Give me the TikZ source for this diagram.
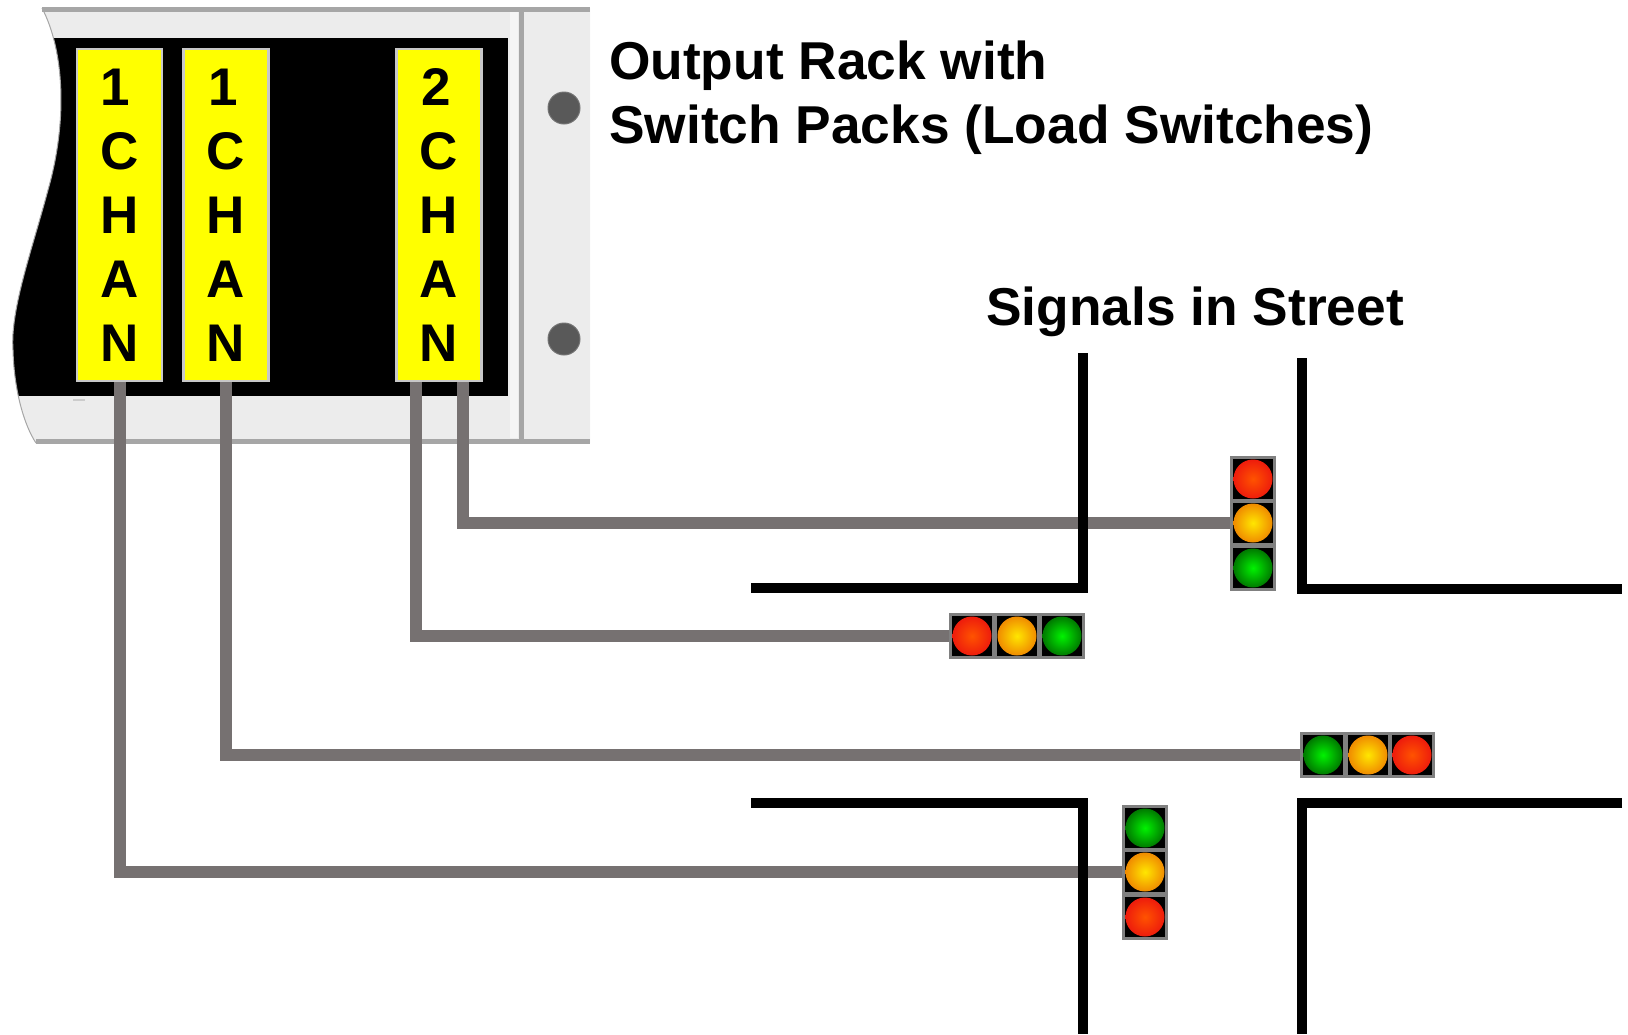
\documentclass[tikz,border=0pt]{standalone}
\usepackage{fontspec}
\setmainfont{Liberation Sans}
\definecolor{rackgray}{HTML}{ECECEC}
\definecolor{edgegray}{HTML}{A6A6A6}
\definecolor{wiregray}{HTML}{767171}
\definecolor{screwgray}{HTML}{595959}
\definecolor{packyellow}{HTML}{FFFF00}
\definecolor{packedge}{HTML}{C8C8C8}
\definecolor{redrim}{HTML}{EE1C0C}
\definecolor{amberrim}{HTML}{F08C00}
\definecolor{ambercore}{HTML}{FFE600}
\definecolor{greenrim}{HTML}{007A00}
\begin{document}
\begin{tikzpicture}[x=1pt,y=-1pt]

\tikzstyle{pack} = [rectangle,draw=packedge,fill=packyellow,line width=2.5pt,minimum width=85pt,minimum height=332pt,inner sep=0pt,align=center,font=\bfseries\fontsize{53}{64}\selectfont];%
\tikzstyle{caption} = [rectangle,inner sep=0pt,anchor=west,align=left,font=\bfseries\fontsize{53.3}{64}\selectfont];%
\tikzstyle{screw} = [circle,draw=black!55,fill=screwgray,line width=1pt,minimum size=32pt,inner sep=0pt];
\tikzstyle{cell} = [rectangle,draw=black!50,fill=black,line width=3pt,minimum size=43.5pt,inner sep=0pt];
\tikzstyle{red lamp} = [circle,inner sep=0pt,minimum size=39pt,inner color=orange!65!red,outer color=redrim];
\tikzstyle{amber lamp} = [circle,inner sep=0pt,minimum size=39pt,inner color=ambercore,outer color=amberrim];
\tikzstyle{green lamp} = [circle,inner sep=0pt,minimum size=39pt,inner color=green!95!black,outer color=greenrim];
\tikzstyle{wire} = [-,draw=wiregray,line width=12pt,to path={|- (\tikztotarget)}];
\tikzstyle{kerb} = [line width=10pt,line cap=butt,line join=miter];

\useasboundingbox (0,0) rectangle (1628,1034);

% rack
\fill[rackgray] (42,8) .. controls (64,50) and (68,120) .. (48,190) .. controls (32,250) and (10,310) .. (13,350) .. controls (14,390) and (24,425) .. (36,443) -- (590,443) -- (590,8) -- cycle;
\begin{scope}
\clip (42,8) .. controls (64,50) and (68,120) .. (48,190) .. controls (32,250) and (10,310) .. (13,350) .. controls (14,390) and (24,425) .. (36,443) -- (590,443) -- (590,8) -- cycle;
\fill[black] (0,38) rectangle (508,396);
\end{scope}
\draw[edgegray,line width=1pt] (42,8) .. controls (64,50) and (68,120) .. (48,190) .. controls (32,250) and (10,310) .. (13,350) .. controls (14,390) and (24,425) .. (36,443);
\fill[black!4] (510,12) rectangle (518,438);
\draw[edgegray,line width=5pt] (42,9) -- (590,9);
\draw[edgegray,line width=5pt] (36,441) -- (590,441);
\draw[edgegray,line width=5pt] (521,8) -- (521,443);
\draw[black!20,line width=1.5pt] (73,400) -- (85,400);

\node[screw] at (564,108) (s1) {};
\node[screw] at (564,339) (s2) {};

\node[pack] at (119.5,215) (c1) {\hspace*{-8pt}1\\C\\H\\A\\N};
\node[pack] at (226,215) (c2) {\hspace*{-6pt}1\\C\\H\\A\\N};
\node[pack] at (439,215) (c3) {\hspace*{-6pt}2\\C\\H\\A\\N};
\coordinate (c3a) at (416,382);
\coordinate (c3b) at (463,382);

\node[caption] at (609,98) (t1) {Output Rack with\\Switch Packs (Load Switches)};
\node[caption] at (986,312) (t2) {Signals in Street};

% signals
\node[cell] at (1253,479) (a1) {};
\node[red lamp] at (a1) (la1) {};
\node[cell] at (1253,523) (a2) {};
\node[amber lamp] at (a2) (la2) {};
\node[cell] at (1253,568) (a3) {};
\node[green lamp] at (a3) (la3) {};

\node[cell] at (972,636) (b1) {};
\node[red lamp] at (b1) (lb1) {};
\node[cell] at (1017,636) (b2) {};
\node[amber lamp] at (b2) (lb2) {};
\node[cell] at (1062,636) (b3) {};
\node[green lamp] at (b3) (lb3) {};

\node[cell] at (1323,755) (d1) {};
\node[green lamp] at (d1) (ld1) {};
\node[cell] at (1368,755) (d2) {};
\node[amber lamp] at (d2) (ld2) {};
\node[cell] at (1412,755) (d3) {};
\node[red lamp] at (d3) (ld3) {};

\node[cell] at (1145,828) (e1) {};
\node[green lamp] at (e1) (le1) {};
\node[cell] at (1145,872) (e2) {};
\node[amber lamp] at (e2) (le2) {};
\node[cell] at (1145,917) (e3) {};
\node[red lamp] at (e3) (le3) {};

% wires
\path (c1.south) edge[wire] (e2.west);
\path (c2.south) edge[wire] (d1.west);
\path (c3a) edge[wire] (b1.west);
\path (c3b) edge[wire] (a2.west);

% street
\draw[kerb] (1083,353) -- (1083,588) -- (751,588);
\draw[kerb] (1302,358) -- (1302,589) -- (1622,589);
\draw[kerb] (751,803) -- (1083,803) -- (1083,1034);
\draw[kerb] (1622,803) -- (1302,803) -- (1302,1034);

\end{tikzpicture}
\end{document}
